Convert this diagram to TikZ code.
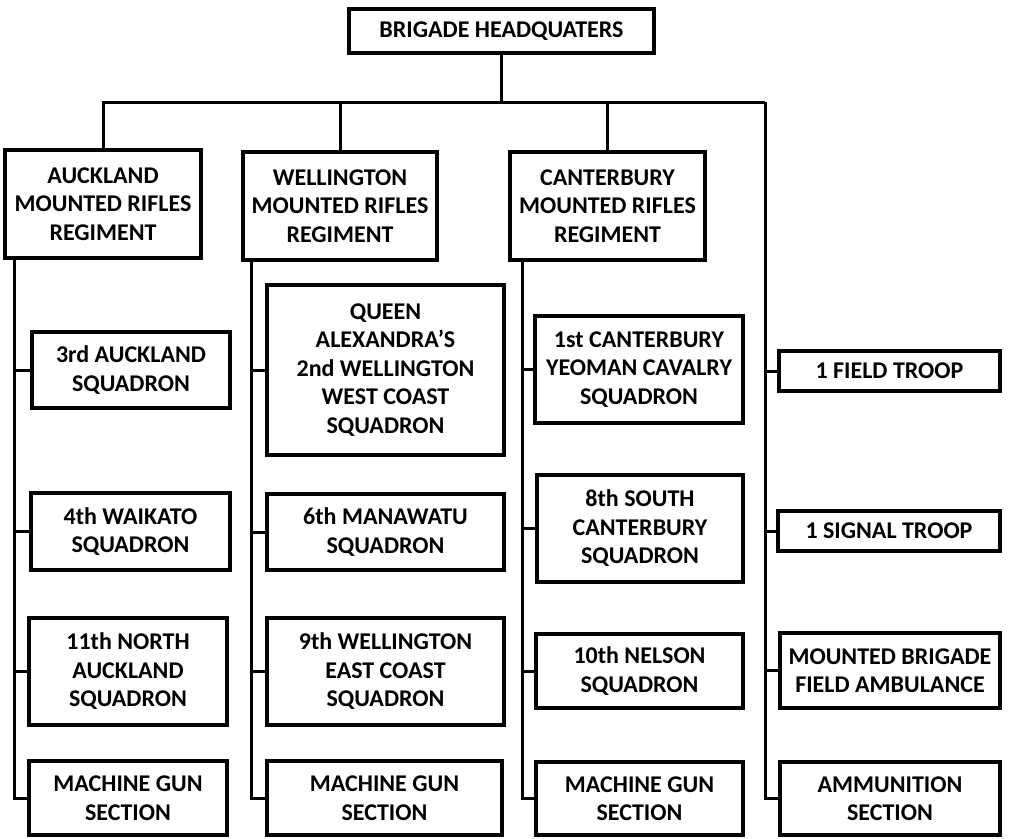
\documentclass[tikz,border=0pt]{standalone}
\usepackage{fontspec}
\setmainfont{Carlito}
\usepackage{tikz}
\usetikzlibrary{positioning}

\tikzset{
  unit/.style={draw, line width=4pt, align=center, inner sep=0pt,
    font=\bfseries\fontsize{24}{28.5}\selectfont},
  link/.style={line width=3pt}
}

\begin{document}
\begin{tikzpicture}[x=1pt,y=-1pt]
\useasboundingbox (0,0) rectangle (1009,838);
\node[unit, minimum width=305, minimum height=44] (hq) at (501.5,31) {BRIGADE HEADQUATERS};
\node[unit, minimum width=196, minimum height=108] (auck) at (103,204) {AUCKLAND\\MOUNTED RIFLES\\REGIMENT};
\node[unit, minimum width=194, minimum height=108] (well) at (340,206) {WELLINGTON\\MOUNTED RIFLES\\REGIMENT};
\node[unit, minimum width=195, minimum height=108] (cant) at (607.5,206) {CANTERBURY\\MOUNTED RIFLES\\REGIMENT};
\node[unit, minimum width=198, minimum height=76] (a3) at (131,370) {3rd AUCKLAND\\SQUADRON};
\node[unit, minimum width=199, minimum height=77] (a4) at (130.5,531.5) {4th WAIKATO\\SQUADRON};
\node[unit, minimum width=198, minimum height=107] (a11) at (128,671.5) {11th NORTH\\AUCKLAND\\SQUADRON};
\node[unit, minimum width=198, minimum height=74] (amg) at (128,798) {MACHINE GUN\\SECTION};
\node[unit, minimum width=237, minimum height=170] (w2) at (385.5,370) {QUEEN\\ALEXANDRA’S\\2nd WELLINGTON\\WEST COAST\\SQUADRON};
\node[unit, minimum width=237, minimum height=76] (w6) at (385.5,532) {6th MANAWATU\\SQUADRON};
\node[unit, minimum width=237, minimum height=107] (w9) at (385.5,671.5) {9th WELLINGTON\\EAST COAST\\SQUADRON};
\node[unit, minimum width=235, minimum height=74] (wmg) at (384.5,798) {MACHINE GUN\\SECTION};
\node[unit, minimum width=208, minimum height=107] (c1) at (639,369.5) {1st CANTERBURY\\YEOMAN CAVALRY\\SQUADRON};
\node[unit, minimum width=206, minimum height=107] (c8) at (640,528.5) {8th SOUTH\\CANTERBURY\\SQUADRON};
\node[unit, minimum width=207, minimum height=74] (c10) at (639.5,671) {10th NELSON\\SQUADRON};
\node[unit, minimum width=207, minimum height=73] (cmg) at (639.5,798.5) {MACHINE GUN\\SECTION};
\node[unit, minimum width=221, minimum height=40] (ft) at (889.5,371) {1 FIELD TROOP};
\node[unit, minimum width=222, minimum height=40] (st) at (889,531) {1 SIGNAL TROOP};
\node[unit, minimum width=220, minimum height=75] (amb) at (890,670.5) {MOUNTED BRIGADE\\FIELD AMBULANCE};
\node[unit, minimum width=220, minimum height=73] (ammo) at (890,798.5) {AMMUNITION\\SECTION};
\coordinate (busR) at (765,102);
\coordinate (aline) at (14,260);
\coordinate (wline) at (251,262);
\coordinate (cline) at (522,262);
\draw[link] (hq) -- (hq |- busR);
\draw[link] (auck) |- (busR);
\draw[link] (well) -- (well |- busR);
\draw[link] (cant) -- (cant |- busR);
\foreach \c in {a3,a4,a11,amg} \draw[link] (aline) |- (\c);
\foreach \c in {w2,w6,w9,wmg} \draw[link] (wline) |- (\c);
\foreach \c in {c1,c8,c10,cmg} \draw[link] (cline) |- (\c);
\foreach \c in {ft,st,amb,ammo} \draw[link] (busR) |- (\c);
\end{tikzpicture}
\end{document}
